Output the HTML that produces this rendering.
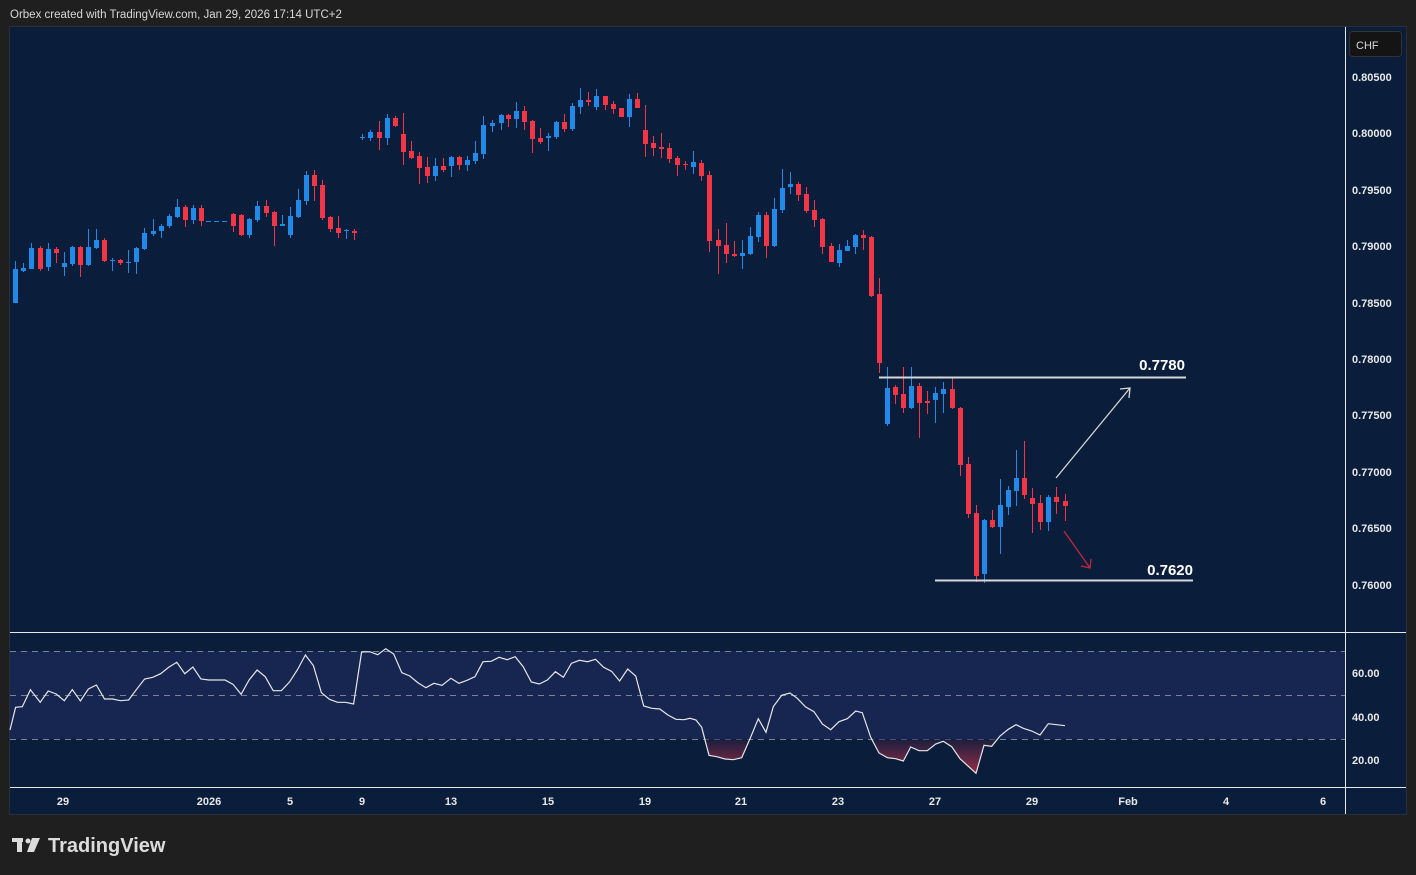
<!DOCTYPE html>
<html><head><meta charset="utf-8"><style>
html,body{margin:0;padding:0;background:#1f1f1f;width:1416px;height:875px;overflow:hidden;font-family:"Liberation Sans",sans-serif}
svg{position:absolute;left:0;top:0}
</style></head><body>
<svg id="s" width="1416" height="875" xmlns="http://www.w3.org/2000/svg">
<rect x="0" y="0" width="1416" height="875" fill="#1f1f1f"/>
<text x="10" y="18" fill="#d8d8d8" font-size="11.5">Orbex created with TradingView.com, Jan 29, 2026 17:14 UTC+2</text>
<rect x="9.5" y="26.5" width="1397" height="788" fill="#0a1d3b" stroke="#2a2e39"/>
<rect x="10" y="651" width="1335" height="88" fill="#172650"/>
<g stroke="#7a8296" stroke-dasharray="6,5" stroke-width="1">
<line x1="10" y1="651.5" x2="1345" y2="651.5"/><line x1="10" y1="695.5" x2="1345" y2="695.5"/><line x1="10" y1="739.5" x2="1345" y2="739.5"/>
</g>
<g id="c"></g>
<g id="r"></g>
<line x1="10" y1="632.5" x2="1406" y2="632.5" stroke="#e8e8e8"/>
<line x1="10" y1="787.5" x2="1406" y2="787.5" stroke="#e8e8e8"/>
<line x1="1345.5" y1="27" x2="1345.5" y2="814" stroke="#e8e8e8"/>
<rect x="1349.5" y="31.5" width="52" height="25" rx="3" fill="#141414" stroke="#333"/>
<text x="1356" y="49" fill="#d8d8d8" font-size="11">CHF</text>
<g fill="#e8e8e8" font-size="11" font-weight="bold">
<text x="1352" y="81">0.80500</text><text x="1352" y="137">0.80000</text><text x="1352" y="194">0.79500</text>
<text x="1352" y="250">0.79000</text><text x="1352" y="307">0.78500</text><text x="1352" y="363">0.78000</text>
<text x="1352" y="419">0.77500</text><text x="1352" y="476">0.77000</text><text x="1352" y="532">0.76500</text>
<text x="1352" y="589">0.76000</text>
<text x="1352" y="677">60.00</text><text x="1352" y="721">40.00</text><text x="1352" y="764">20.00</text>
</g>
<g fill="#e8e8e8" font-size="11" font-weight="bold" text-anchor="middle">
<text x="63" y="805">29</text><text x="209" y="805">2026</text><text x="290" y="805">5</text><text x="362" y="805">9</text>
<text x="451" y="805">13</text><text x="548" y="805">15</text><text x="645" y="805">19</text><text x="741" y="805">21</text>
<text x="838" y="805">23</text><text x="935" y="805">27</text><text x="1032" y="805">29</text><text x="1128" y="805">Feb</text>
<text x="1226" y="805">4</text><text x="1323" y="805">6</text>
</g>
<line x1="879" y1="377.5" x2="1186" y2="377.5" stroke="#d8d8d8" stroke-width="2"/>
<line x1="935" y1="580.5" x2="1193" y2="580.5" stroke="#d8d8d8" stroke-width="2"/>
<text x="1185" y="370" fill="#fff" font-size="15" font-weight="bold" text-anchor="end">0.7780</text>
<text x="1193" y="575" fill="#fff" font-size="15" font-weight="bold" text-anchor="end">0.7620</text>
<g stroke="#d8d8d8" stroke-width="1.3" fill="none"><line x1="1056" y1="478" x2="1130" y2="388"/><polyline points="1120,389 1130,388 1129,398"/></g>
<g stroke="#c0283a" stroke-width="1.3" fill="none"><line x1="1064" y1="531" x2="1090" y2="568"/><polyline points="1081,566 1090,568 1091,559"/></g>
<g fill="#dcdcdc"><rect x="12" y="838" width="11" height="4"/><rect x="17" y="838" width="5" height="14"/><circle cx="28" cy="841" r="2.5"/><polygon points="32,838 40,838 34,852 27,852"/></g>
<text x="48" y="852" fill="#dcdcdc" font-size="20" font-weight="bold">TradingView</text>
</svg>
<script>
var R="#f23645",B="#2189e8";
var d=[[15,269,303,261,303,B],[23,268,271,263,272,B],[31,248,269,243,269,B],[40,248,269,246,271,R],[48,249,267,243,271,B],[56,249,253,247,263,R],[64,263,267,252,276,B],[72,247,264,246,266,B],[80,247,265,246,277,R],[88,247,265,229,266,B],[96,240,248,229,249,B],[104,240,261,238,262,R],[112,260,261,258,271,B],[120,260,263,259,265,R],[128,262,263,250,273,B],[136,248,262,247,274,B],[144,233,249,228,250,B],[153,231,234,219,236,B],[161,226,231,224,238,B],[169,216,226,214,228,B],[177,207,217,199,218,B],[185,207,220,205,227,R],[193,208,220,205,224,B],[201,208,221,205,226,R],[209,220.5,221.5,220.5,221.5,B],[217,220.5,221.5,220.5,221.5,B],[225,220.5,221.5,220.5,221.5,B],
[233,214,226,213,232,R],[241,215,235,214,236,R],[249,219,235,218,238,B],[257,206,220,201,222,B],[266,206,213,200,217,R],[274,212,226,211,246,R],[282,224,226,215,226,B],[290,216,235,207,238,B],[298,200,217,189,218,B],[306,175,201,171,205,B],[314,175,186,170,201,R],[322,185,218,180,220,R],[330,217,229,216,232,R],[338,228,233,216,238,R],[346,230,231,229,239,B],[354,231,233,229,240,R],
[362,137,138,134,140,B],[370,132,138,130,141,B],[379,132,138,121,150,R],[387,118,138,114,145,B],[395,118,126,116,127,R],[403,134,152,113,165,R],[411,151,158,141,159,R],[419,156,168,152,184,R],[427,167,176,157,183,R],[435,166,176,158,181,B],[443,166,170,158,172,R],[451,157,166,156,177,B],[459,157,165,156,170,R],[467,160,165,156,171,B],[475,153,161,141,164,B],[483,125,154,116,159,B],[492,123,126,120,132,B],[501,115,123,114,130,B],[508,115,119,114,127,R],[516,111,119,102,128,B],[524,111,122,106,130,R],[532,121,139,120,153,R],[540,138,142,128,144,R],[548,136,138,133,151,B],[556,122,137,121,139,B],[564,122,129,114,132,R],[572,106,129,103,131,B],[580,100,107,88,114,B],[588,100,102,92,106,R],[596,96,107,89,110,B],[605,96,105,96,110,R],[613,104,109,101,114,R],[621,108,117,108,117,R],[629,99,117,94,127,B],[637,99,108,93,108,R],
[645,130,144,105,157,R],[653,143,148,136,156,R],[661,147,149,133,158,R],[669,148,159,143,163,R],[677,158,165,156,176,R],[685,164,165,161,170,R],[693,162,167,151,174,B],[701,163,176,160,181,R],[709,175,241,171,252,R],[718,240,246,229,274,R],[726,245,254,223,263,R],[734,254,256,241,257,R],[742,253,256,240,269,B],[750,236,254,227,255,B],[758,215,237,212,242,B],[766,215,246,212,258,R],[774,209,246,198,247,B],[782,188,210,169,213,B],[790,184,187,172,194,B],[798,184,195,182,201,R],[806,194,211,187,213,R],[814,210,220,200,227,R],[822,219,247,218,254,R],[831,246,262,243,262,R],[839,250,263,244,267,B],[847,246,251,240,251,B],[855,235,247,234,254,B],[863,235,238,230,250,R],[871,237,296,236,297,R],[879,294,363,278,373,R],
[887,388,424,367,426,B],[895,387,395,385,404,R],[903,394,408,367,413,R],[911,386,408,367,409,B],[919,386,403,383,438,R],[927,401,403,391,414,R],[935,393,400,387,423,B],[943,389,394,382,413,B],[952,389,408,378,409,R],[960,408,465,407,476,R],[968,464,514,457,518,R],[976,513,576,505,582,R],[984,520,574,519,583,B],[992,520,527,510,528,R],[1000,505,527,479,554,B],[1008,490,507,486,515,B],[1016,478,491,450,506,B],[1024,478,495,441,499,R],[1032,498,504,488,533,R],[1040,503,522,495,530,R],[1048,497,522,495,531,B],[1056,497,502,487,514,R],[1065,501,506,494,521,R]];
var h="";
d.forEach(function(c){var x=c[0];
if(c[0]>=209&&c[0]<=225){h+='<rect x="'+(x-3)+'" y="221" width="5" height="1" fill="'+B+'"/>';return;}
h+='<line x1="'+(x+.5)+'" y1="'+c[3]+'" x2="'+(x+.5)+'" y2="'+c[4]+'" stroke="'+c[5]+'" stroke-width="1"/>';
h+='<rect x="'+(x-2)+'" y="'+c[1]+'" width="5" height="'+Math.max(1,c[2]-c[1])+'" fill="'+c[5]+'"/>';});
document.getElementById("c").innerHTML=h;
var L=[[22,300],[35,232],[50,230],[68,179],[90,217],[108,183],[126,192],[144,212],[162,179],[180,213],[198,177],[216,165],[234,207],[252,207],[270,212],[288,210],[306,178],[324,147],[342,142],[360,131],[378,112],[396,97],[414,131],[432,111],[450,147],[468,150],[486,150],[504,150],[522,163],[540,193],[558,150],[576,120],[594,140],[612,182],[630,182],[648,157],[666,120],[684,75],[702,107],[720,188],[738,208],[756,217],[774,217],[792,222],[810,66],[828,65],[846,74],[864,56],[882,72],[900,128],[918,138],[936,158],[954,173],[972,160],[990,166],[1010,145],[1028,160],[1046,151],[1064,140],[1082,95],[1100,94],[1118,82],[1136,89],[1154,80],[1172,110],[1190,156],[1208,162],[1226,150],[1244,125],[1262,142],[1280,100],[1298,91],[1316,95],[1334,88],[1352,112],[1370,124],[1388,153],[1406,117],[1424,138],[1442,228],[1460,235],[1478,237],[1496,255],[1514,268],[1532,269]];
var Rt=[[0,265],[18,270],[35,292],[57,376],[80,380],[105,387],[130,389],[155,383],[180,326],[205,266],[228,307],[250,230],[275,196],[300,189],[322,205],[347,231],[372,245],[397,282],[422,299],[447,275],[472,266],[497,243],[517,248],[542,322],[567,369],[592,383],[617,386],[640,393],[662,351],[687,362],[712,362],[737,342],[760,334],[785,350],[810,386],[835,409],[858,430],[882,346],[905,349],[930,318],[955,298],[978,284],[1000,295],[1025,303],[1050,315],[1075,281],[1100,284],[1125,287]];
var P=[];L.forEach(function(p){var x=p[0]/2.24;if(x<690)P.push([x,630+p[1]/3]);});
P[0][0]=10;
Rt.forEach(function(p){P.push([690+p[0]/3,630+p[1]/3]);});
var pts=P.map(function(p){return p[0].toFixed(1)+","+p[1].toFixed(1)}).join(" ");
var first=P[0][0],last=P[P.length-1][0];
var r='<defs><clipPath id="cp"><rect x="10" y="739.5" width="1335" height="48"/></clipPath><linearGradient id="g" gradientUnits="userSpaceOnUse" x1="0" y1="740" x2="0" y2="774"><stop offset="0" stop-color="#1c1f3e"/><stop offset="1" stop-color="#9a2c46"/></linearGradient></defs>';
r+='<polygon clip-path="url(#cp)" points="'+first+',739.5 '+pts+' '+last+',739.5" fill="url(#g)"/>';
r+='<polyline points="'+pts+'" fill="none" stroke="#e6e6e6" stroke-width="1.2"/>';
document.getElementById("r").innerHTML=r;
</script>
</body></html>
